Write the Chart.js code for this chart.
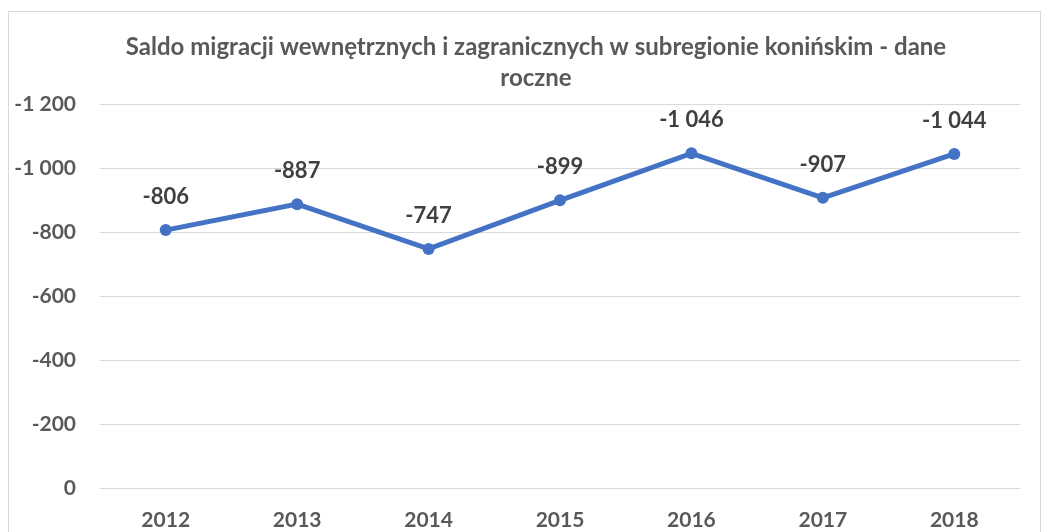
<!DOCTYPE html>
<html>
<head>
<meta charset="utf-8">
<script src="https://cdn.jsdelivr.net/npm/chart.js@4"></script>
<style>
  html, body { margin: 0; padding: 0; background: #fff; overflow: hidden; }
  #frame {
    position: absolute; left: 8px; top: 11px;
    width: 1031px; height: 521px;
    border: 1px solid #d9d9d9; border-bottom: none;
    background: #fff;
  }
  #chart { display: block; }
</style>
</head>
<body>
<div id="frame"><canvas id="chart" width="1031" height="521"></canvas></div>
<script>
const years = ['2012', '2013', '2014', '2015', '2016', '2017', '2018'];
const saldo = [-806, -887, -747, -899, -1046, -907, -1044];
const chartTitle = ['Saldo migracji wewnętrznych i zagranicznych w subregionie konińskim - dane', 'roczne'];

const fontFamily = 'Lato, "Open Sans", sans-serif';

function fmt(v) {
    const s = String(Math.abs(v)).replace(/\B(?=(\d{3})+(?!\d))/g, ' ');
    return (v < 0 ? '-' : '') + s;
}

// labels over each point
const pointLabels = {
    id: 'pointLabels',
    afterDatasetsDraw(chart) {
        const ctx = chart.ctx;
        const meta = chart.getDatasetMeta(0);
        ctx.save();
        ctx.font = 'bold 22px ' + fontFamily;
        ctx.fillStyle = '#404040';
        ctx.textAlign = 'center';
        ctx.textBaseline = 'middle';
        meta.data.forEach((pt, i) => {
            ctx.fillText(fmt(saldo[i]), pt.x, pt.y - 33);
        });
        ctx.restore();
    }
};

// title drawn by hand so it can sit off-centre like the original
const titlePlugin = {
    id: 'titlePlugin',
    afterDraw(chart) {
        const ctx = chart.ctx;
        ctx.save();
        ctx.font = 'bold 24px ' + fontFamily;
        ctx.fillStyle = '#595959';
        ctx.textAlign = 'center';
        ctx.textBaseline = 'middle';
        chartTitle.forEach((line, i) => {
            ctx.fillText(line, 527, 35 + i * 31);
        });
        ctx.restore();
    }
};

new Chart(document.getElementById('chart'), {
    type: 'line',
    data: {
        labels: years,
        datasets: [{
            data: saldo,
            borderColor: '#4472C4',
            backgroundColor: '#4472C4',
            borderWidth: 5,
            pointRadius: 6,
            pointBorderWidth: 0,
            tension: 0,
            fill: false
        }]
    },
    options: {
        responsive: false,
        animation: false,
        layout: { padding: { top: 92, right: 20, left: 0, bottom: 0 } },
        plugins: {
            legend: { display: false },
            tooltip: { enabled: false },
            title: { display: false }
        },
        scales: {
            x: {
                offset: true,
                grid: { display: false, drawTicks: false },
                border: { display: false },
                ticks: {
                    color: '#595959',
                    padding: 20,
                    font: { family: fontFamily, size: 21, weight: 'bold' }
                },
                afterFit(scale) { scale.height = 45; }
            },
            y: {
                min: -1200,
                max: 0,
                reverse: true,
                grid: { color: '#d9d9d9', lineWidth: 1, drawTicks: false },
                border: { display: false },
                ticks: {
                    stepSize: 200,
                    color: '#595959',
                    padding: 24,
                    font: { family: fontFamily, size: 21, weight: 'bold' },
                    callback: v => fmt(v)
                },
                afterFit(scale) { scale.width = 91; }
            }
        }
    },
    plugins: [pointLabels, titlePlugin]
});
</script>
</body>
</html>
